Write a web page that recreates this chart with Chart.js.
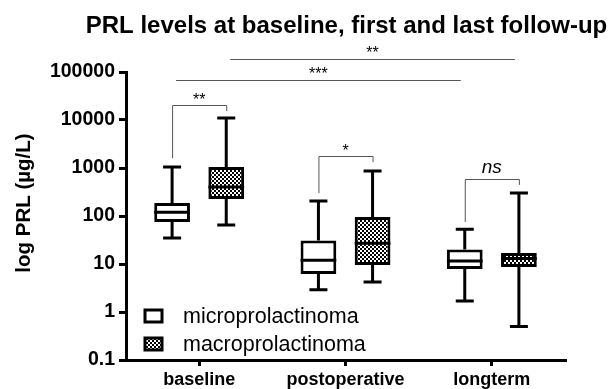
<!DOCTYPE html>
<html>
<head>
<meta charset="utf-8">
<script src="https://cdn.jsdelivr.net/npm/chart.js@4.4.0/dist/chart.umd.min.js"></script>
<style>
  html, body { margin: 0; padding: 0; background: #fff; }
  #wrap { width: 616px; height: 389px; }
</style>
</head>
<body>
<div id="wrap"><canvas id="chart"></canvas></div>
<script>
// categorias e séries
const categories = ['baseline', 'postoperative', 'longterm'];
const seriesNames = ['microprolactinoma', 'macroprolactinoma'];

// caixas (min, Q1, mediana, Q3, max)
const microMin = [35, 2.9, 1.7];
const microQ1 = [75, 6.2, 7.9];
const microMed = [120, 12, 11.6];
const microQ3 = [186, 31, 20];
const microMax = [1050, 205, 53];

const macroMin = [65, 4.2, 0.5];
const macroQ1 = [225, 9.5, 8.7];
const macroMed = [400, 27, 13];
const macroQ3 = [1050, 95, 17];
const macroMax = [11000, 870, 300];

const yTicks = [0.1, 1, 10, 100, 1000, 10000, 100000];

// colchetes micro x macro dentro de cada categoria
const bracketLabels = ['**', '*', 'ns'];
const bracketTop = [20500, 1780, 590];
const bracketLeftEnd = [1600, 300, 75];
const bracketRightEnd = [15400, 1330, 445];

// linhas longas baseline -> longterm (por série)
const spanLabels = ['***', '**'];
const spanSeries = [0, 1];
const spanLevel = [68000, 186000];

const FONT = '"Liberation Sans", Arial, sans-serif';

// padrão quadriculado para macro
function checkerPattern(size) {
  const c = document.createElement('canvas');
  c.width = size * 2; c.height = size * 2;
  const g = c.getContext('2d');
  g.fillStyle = '#fff';
  g.fillRect(0, 0, c.width, c.height);
  g.fillStyle = '#000';
  g.fillRect(0, 0, size, size);
  g.fillRect(size, size, size, size);
  return g.createPattern(c, 'repeat');
}

const ctx = document.getElementById('chart').getContext('2d');
const pattern = checkerPattern(2);

const stats = [
  { min: microMin, q1: microQ1, med: microMed, q3: microQ3, max: microMax },
  { min: macroMin, q1: macroQ1, med: macroMed, q3: macroQ3, max: macroMax }
];

// whiskers, medianas, anotações, títulos e legenda
const boxExtras = {
  id: 'boxExtras',
  afterDatasetsDraw(chart) {
    const c = chart.ctx;
    const y = chart.scales.y;
    const area = chart.chartArea;
    c.save();
    c.strokeStyle = '#000';
    c.lineWidth = 3;
    stats.forEach((s, di) => {
      const meta = chart.getDatasetMeta(di);
      meta.data.forEach((bar, j) => {
        const x = bar.x;
        const hw = bar.width / 2;
        const yMax = y.getPixelForValue(s.max[j]);
        const yMin = y.getPixelForValue(s.min[j]);
        const yQ1 = y.getPixelForValue(s.q1[j]);
        const yQ3 = y.getPixelForValue(s.q3[j]);
        const yMed = y.getPixelForValue(s.med[j]);
        c.beginPath();
        c.moveTo(x, yQ3); c.lineTo(x, yMax);
        c.moveTo(x - 9, yMax); c.lineTo(x + 9, yMax);
        c.moveTo(x, yQ1); c.lineTo(x, yMin);
        c.moveTo(x - 9, yMin); c.lineTo(x + 9, yMin);
        c.moveTo(x - hw, yMed); c.lineTo(x + hw, yMed);
        c.stroke();
      });
    });

    // colchetes
    c.strokeStyle = '#555';
    c.lineWidth = 1;
    c.fillStyle = '#000';
    c.textAlign = 'center';
    c.textBaseline = 'bottom';
    const m0 = chart.getDatasetMeta(0), m1 = chart.getDatasetMeta(1);
    bracketLabels.forEach((lab, j) => {
      const xl = m0.data[j].x, xr = m1.data[j].x;
      const yt = Math.round(y.getPixelForValue(bracketTop[j])) + 0.5;
      c.beginPath();
      c.moveTo(xl + 0.5, y.getPixelForValue(bracketLeftEnd[j]));
      c.lineTo(xl + 0.5, yt);
      c.lineTo(xr + 0.5, yt);
      c.lineTo(xr + 0.5, y.getPixelForValue(bracketRightEnd[j]));
      c.stroke();
      c.font = (lab === 'ns' ? 'italic 19px ' : '16px ') + FONT;
      c.fillText(lab, (xl + xr) / 2, yt - (lab === 'ns' ? 2 : -3));
    });
    spanLabels.forEach((lab, k) => {
      const meta = chart.getDatasetMeta(spanSeries[k]);
      const xl = meta.data[0].x + 4, xr = meta.data[2].x - 4;
      const yt = Math.round(y.getPixelForValue(spanLevel[k])) + 0.5;
      c.beginPath();
      c.moveTo(xl, yt); c.lineTo(xr, yt);
      c.stroke();
      c.font = '16px ' + FONT;
      c.fillText(lab, (xl + xr) / 2, yt + 2);
    });

    // título
    c.font = 'bold 24px ' + FONT;
    c.textBaseline = 'alphabetic';
    c.fillText('PRL levels at baseline, first and last follow-up', (area.left + area.right) / 2 + 1, 33);

    // título do eixo y
    c.save();
    c.translate(30, 203);
    c.rotate(-Math.PI / 2);
    c.font = 'bold 20.5px ' + FONT;
    c.textBaseline = 'alphabetic';
    c.fillText('log PRL (µg/L)', 0, 0);
    c.restore();

    // legenda
    c.textAlign = 'left';
    c.textBaseline = 'middle';
    c.font = '21.5px ' + FONT;
    chart.data.datasets.forEach((ds, i) => {
      const cy = 316 + i * 28;
      c.fillStyle = ds.backgroundColor;
      c.fillRect(145, cy - 6, 17, 12);
      c.strokeStyle = '#000';
      c.lineWidth = 3;
      c.strokeRect(145, cy - 6, 17, 12);
      c.fillStyle = '#000';
      c.fillText(ds.label, 183, cy + 1);
    });
    c.restore();
  }
};

new Chart(ctx, {
  type: 'bar',
  data: {
    labels: categories,
    datasets: [
      {
        label: seriesNames[0],
        data: categories.map((_, i) => [microQ1[i], microQ3[i]]),
        backgroundColor: '#fff',
        borderColor: '#000',
        borderWidth: 3,
        borderSkipped: false,
        categoryPercentage: 0.74,
        barPercentage: 0.66
      },
      {
        label: seriesNames[1],
        data: categories.map((_, i) => [macroQ1[i], macroQ3[i]]),
        backgroundColor: pattern,
        borderColor: '#000',
        borderWidth: 3,
        borderSkipped: false,
        categoryPercentage: 0.74,
        barPercentage: 0.66
      }
    ]
  },
  options: {
    responsive: true,
    maintainAspectRatio: false,
    animation: false,
    layout: { padding: { left: 0, right: 51, top: 72, bottom: 0 } },
    plugins: {
      legend: { display: false },
      tooltip: { enabled: false },
      title: { display: false }
    },
    scales: {
      x: {
        afterFit: s => { s.height = 29; },
        grid: { offset: false, drawOnChartArea: false, drawTicks: true, tickLength: 6, color: '#000', lineWidth: 3 },
        border: { display: true, color: '#000', width: 3 },
        ticks: { color: '#000', padding: 3, font: { family: FONT, size: 18, weight: 'bold' } }
      },
      y: {
        type: 'logarithmic',
        min: 0.1,
        max: 100000,
        afterFit: s => { s.width = 126; },
        afterBuildTicks: s => { s.ticks = yTicks.map(v => ({ value: v })); },
        grid: { drawOnChartArea: false, drawTicks: true, tickLength: 7, color: '#000', lineWidth: 3 },
        border: { display: true, color: '#000', width: 3 },
        ticks: { color: '#000', padding: 4, font: { family: FONT, size: 19.5, weight: 'bold' }, callback: v => String(v) }
      }
    }
  },
  plugins: [boxExtras]
});
</script>
</body>
</html>
